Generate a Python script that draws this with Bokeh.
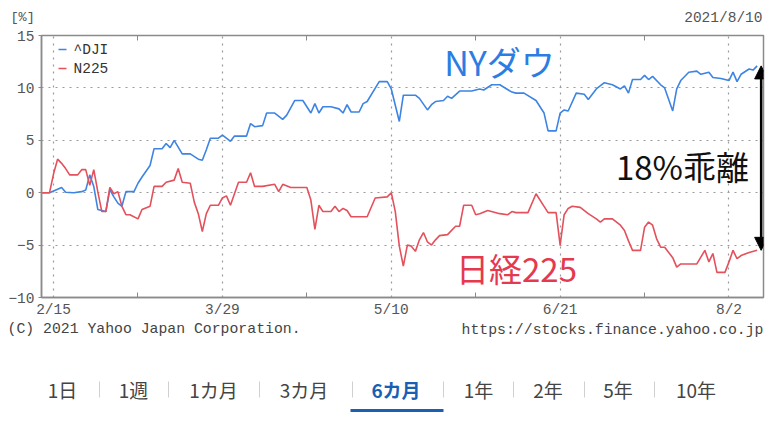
import pandas as pd
from bokeh.plotting import figure
from bokeh.layouts import column, row
from bokeh.models import (Range1d, FixedTicker, CustomJSTickFormatter, LinearAxis,
                          Label, Arrow, NormalHead)
from bokeh.embed import file_html
from bokeh.resources import INLINE

# ---------------- data (percent change since 2021-02-12) ----------------
dji_dates = ["2021-02-12", "2021-02-14", "2021-02-17", "2021-02-18", "2021-02-20", "2021-02-22",
             "2021-02-23", "2021-02-24", "2021-02-25", "2021-02-26", "2021-02-28", "2021-03-01",
             "2021-03-02", "2021-03-03", "2021-03-04", "2021-03-05", "2021-03-07", "2021-03-08",
             "2021-03-09", "2021-03-11", "2021-03-12", "2021-03-14", "2021-03-15", "2021-03-16",
             "2021-03-17", "2021-03-19", "2021-03-21", "2021-03-23", "2021-03-24", "2021-03-25",
             "2021-03-26", "2021-03-28", "2021-03-29", "2021-03-30", "2021-03-31", "2021-04-01",
             "2021-04-04", "2021-04-05", "2021-04-06", "2021-04-08", "2021-04-09", "2021-04-11",
             "2021-04-13", "2021-04-14", "2021-04-16", "2021-04-18", "2021-04-20", "2021-04-21",
             "2021-04-22", "2021-04-23", "2021-04-25", "2021-04-27", "2021-04-28", "2021-04-29",
             "2021-04-30", "2021-05-02", "2021-05-03", "2021-05-04", "2021-05-07", "2021-05-09",
             "2021-05-10", "2021-05-12", "2021-05-13", "2021-05-16", "2021-05-17", "2021-05-19",
             "2021-05-20", "2021-05-21", "2021-05-23", "2021-05-24", "2021-05-25", "2021-05-27",
             "2021-05-30", "2021-06-01", "2021-06-02", "2021-06-04", "2021-06-06", "2021-06-09",
             "2021-06-10", "2021-06-12", "2021-06-15", "2021-06-17", "2021-06-18", "2021-06-20",
             "2021-06-21", "2021-06-22", "2021-06-23", "2021-06-25", "2021-06-27", "2021-06-28",
             "2021-06-30", "2021-07-02", "2021-07-04", "2021-07-06", "2021-07-07", "2021-07-08",
             "2021-07-09", "2021-07-11", "2021-07-12", "2021-07-13", "2021-07-14", "2021-07-16",
             "2021-07-17", "2021-07-19", "2021-07-20", "2021-07-21", "2021-07-23", "2021-07-25",
             "2021-07-26", "2021-07-28", "2021-07-29", "2021-07-31", "2021-08-02", "2021-08-03",
             "2021-08-04", "2021-08-05", "2021-08-07", "2021-08-08", "2021-08-09"]
dji_values = [0.0, 0.0, 0.5, 0.05, 0.0, 0.1,
              0.25, 1.7, 0.6, -1.6, -1.8, 0.3,
              -0.4, -1.0, -1.3, 0.1, 0.1, 0.9,
              1.5, 2.6, 4.2, 4.2, 4.7, 4.3,
              5.0, 3.7, 3.7, 3.2, 3.1, 4.1,
              5.2, 5.2, 5.5, 5.2, 4.9, 5.4,
              5.4, 6.6, 6.3, 6.4, 7.6, 7.6,
              7.0, 7.4, 8.8, 8.8, 7.6, 8.5,
              7.6, 8.2, 8.2, 8.0, 7.6, 8.4,
              7.7, 7.7, 8.5, 8.7, 10.6, 10.6,
              9.9, 6.8, 9.3, 9.3, 9.0, 7.9,
              8.4, 8.7, 8.8, 9.2, 9.0, 9.7,
              9.7, 9.9, 9.8, 10.3, 10.3, 9.6,
              9.5, 9.5, 8.8, 7.6, 5.9, 5.9,
              7.6, 7.9, 7.8, 9.5, 9.4, 8.9,
              9.9, 10.5, 10.3, 9.9, 10.2, 9.5,
              10.8, 10.8, 11.2, 10.8, 11.1, 10.3,
              10.0, 7.8, 9.9, 10.7, 11.5, 11.6,
              11.3, 11.5, 11.0, 10.9, 10.7, 11.5,
              10.6, 11.3, 11.8, 11.7, 12.1]

n225_dates = ["2021-02-12", "2021-02-14", "2021-02-15", "2021-02-16", "2021-02-17", "2021-02-18",
              "2021-02-19", "2021-02-21", "2021-02-22", "2021-02-23", "2021-02-24", "2021-02-25",
              "2021-02-26", "2021-02-27", "2021-02-28", "2021-03-01", "2021-03-02", "2021-03-03",
              "2021-03-04", "2021-03-05", "2021-03-06", "2021-03-08", "2021-03-09", "2021-03-11",
              "2021-03-12", "2021-03-14", "2021-03-15", "2021-03-17", "2021-03-18", "2021-03-19",
              "2021-03-21", "2021-03-22", "2021-03-23", "2021-03-24", "2021-03-25", "2021-03-26",
              "2021-03-28", "2021-03-29", "2021-03-30", "2021-03-31", "2021-04-01", "2021-04-02",
              "2021-04-04", "2021-04-05", "2021-04-06", "2021-04-08", "2021-04-11", "2021-04-12",
              "2021-04-13", "2021-04-15", "2021-04-19", "2021-04-20", "2021-04-21", "2021-04-22",
              "2021-04-23", "2021-04-25", "2021-04-26", "2021-04-27", "2021-04-28", "2021-04-29",
              "2021-04-30", "2021-05-04", "2021-05-06", "2021-05-09", "2021-05-10", "2021-05-11",
              "2021-05-12", "2021-05-13", "2021-05-14", "2021-05-15", "2021-05-16", "2021-05-17",
              "2021-05-18", "2021-05-19", "2021-05-20", "2021-05-21", "2021-05-22", "2021-05-24",
              "2021-05-25", "2021-05-26", "2021-05-27", "2021-05-28", "2021-05-30", "2021-05-31",
              "2021-06-01", "2021-06-03", "2021-06-06", "2021-06-08", "2021-06-09", "2021-06-10",
              "2021-06-13", "2021-06-15", "2021-06-17", "2021-06-18", "2021-06-20", "2021-06-21",
              "2021-06-22", "2021-06-23", "2021-06-24", "2021-06-26", "2021-06-28", "2021-06-30",
              "2021-07-01", "2021-07-02", "2021-07-04", "2021-07-06", "2021-07-07", "2021-07-08",
              "2021-07-09", "2021-07-11", "2021-07-12", "2021-07-13", "2021-07-14", "2021-07-15",
              "2021-07-16", "2021-07-17", "2021-07-19", "2021-07-20", "2021-07-21", "2021-07-25",
              "2021-07-27", "2021-07-28", "2021-07-29", "2021-07-30", "2021-08-01", "2021-08-02",
              "2021-08-03", "2021-08-04", "2021-08-05", "2021-08-07", "2021-08-09"]
n225_values = [0.0, 0.0, 1.8, 3.2, 2.8, 2.3,
               1.7, 1.7, 2.2, 2.2, 0.7, 2.2,
               0.1, -1.8, -1.8, 0.5, -0.1, 0.1,
               -1.3, -2.1, -2.1, -2.5, -1.6, -1.3,
               0.6, 0.6, 1.0, 1.2, 2.3, 1.0,
               0.9, -0.9, -2.0, -3.7, -2.0, -1.2,
               -1.2, -0.5, -0.3, -1.2, -0.1, 1.0,
               1.0, 1.9, 0.6, 0.6, 0.8, 0.1,
               0.8, 0.5, 0.5, -0.7, -3.5, -1.2,
               -1.8, -1.8, -1.3, -1.8, -1.5, -1.7,
               -2.3, -2.3, -0.5, -0.4, 0.0, -1.8,
               -5.1, -7.0, -5.0, -5.1, -5.6, -4.5,
               -3.8, -4.7, -5.0, -4.5, -4.1, -4.0,
               -3.6, -3.2, -3.2, -1.2, -1.2, -2.1,
               -2.0, -1.7, -2.0, -2.1, -1.8, -1.9,
               -1.9, -0.1, -1.3, -1.9, -1.9, -5.0,
               -2.1, -1.5, -1.3, -1.4, -2.0, -2.5,
               -2.8, -2.5, -2.5, -3.1, -3.6, -4.6,
               -5.5, -5.5, -3.3, -2.8, -3.1, -4.4,
               -5.2, -5.2, -6.2, -7.1, -6.8, -6.8,
               -5.5, -6.6, -5.8, -7.6, -7.6, -6.6,
               -5.5, -6.3, -6.0, -5.7, -5.5]

y_ticks = [-10, -5, 0, 5, 10, 15]
x_major_dates = ["2021-02-15", "2021-03-29", "2021-05-10", "2021-06-21", "2021-08-02"]
x_minor_dates = ["2021-03-08", "2021-04-19", "2021-05-31", "2021-07-12"]
series_names = ["^DJI", "N225"]
tab_labels = ["1日", "1週", "1カ月", "3カ月", "6カ月", "1年", "2年", "5年", "10年"]
selected_tab = "6カ月"

# ---------------- styles ----------------
BLUE = "#3d84e3"
RED = "#e4505b"
MONO = "Liberation Mono"
CJK = "Noto Sans CJK JP"
GRAY_TXT = "#555555"
AXIS_C = "#8a8a8a"
W = 780


def ms(s):
    return pd.Timestamp(s).value // 10**6


def blank_fig(h):
    f = figure(width=W, height=h, output_backend="svg", toolbar_location=None,
               x_range=Range1d(0, 1), y_range=Range1d(0, 1),
               x_axis_location=None, y_axis_location=None,
               min_border_left=0, min_border_right=0, min_border_top=0, min_border_bottom=0)
    f.outline_line_color = None
    f.grid.visible = False
    return f


def lab(f, px, py, text, **kw):
    # px, py: page position
    kw.setdefault("text_baseline", "middle")
    f.add_layout(Label(x=px - f._fl, y=f._fb - py, x_units="screen", y_units="screen",
                       text=text, **kw))


def seg(f, x0, y0, x1, y1, color, width):
    f.add_layout(Arrow(end=None, x_start=x0 - f._fl, y_start=f._fb - y0,
                       x_end=x1 - f._fl, y_end=f._fb - y1,
                       start_units="screen", end_units="screen",
                       line_color=color, line_width=width))


# ---------------- header strip ----------------
TOP_H = 30
head_fig = blank_fig(TOP_H)
head_fig._fl, head_fig._fb = 0, TOP_H
lab(head_fig, 10, 17, "[%]", text_font=MONO, text_font_size="13.5px", text_color=GRAY_TXT)
lab(head_fig, 762, 17, "2021/8/10", text_font=MONO, text_font_size="14.5px",
    text_color=GRAY_TXT, text_align="right")

# ---------------- main chart ----------------
MAIN_TOP = TOP_H
MAIN_H = 290
x_start = pd.Timestamp("2021-02-12 00:00")
x_end = pd.Timestamp("2021-08-10 14:00")

p = figure(width=W, height=MAIN_H, output_backend="svg", toolbar_location=None,
           x_axis_type="datetime",
           x_range=Range1d(x_start, x_end), y_range=Range1d(-10, 15),
           min_border_left=41, min_border_right=W - 763, min_border_top=35 - MAIN_TOP,
           min_border_bottom=MAIN_H - (297 - MAIN_TOP))
p._fl, p._fb = 41, 297
p.background_fill_color = "white"
p.border_fill_color = "white"
p.outline_line_color = AXIS_C
p.outline_line_width = 1.5

xt = FixedTicker(ticks=[ms(d) for d in x_major_dates], minor_ticks=[ms(d) for d in x_minor_dates])
xa = p.xaxis[0]
xa.ticker = xt
xa.formatter = CustomJSTickFormatter(
    code="const d = new Date(tick); return (d.getUTCMonth()+1) + '/' + d.getUTCDate();")
xa.major_tick_in = 0
xa.major_tick_out = 0
xa.minor_tick_in = 5
xa.minor_tick_out = 0
xa.minor_tick_line_color = AXIS_C
xa.axis_line_color = AXIS_C
xa.axis_line_width = 1.5
xa.major_label_standoff = 4
xa.major_label_text_font = MONO
xa.major_label_text_font_size = "14.5px"
xa.major_label_text_color = GRAY_TXT

top = LinearAxis(ticker=FixedTicker(ticks=[ms(d) for d in x_major_dates],
                                    minor_ticks=[ms(d) for d in x_minor_dates]),
                 major_tick_in=0, major_tick_out=0, minor_tick_in=5, minor_tick_out=0,
                 minor_tick_line_color=AXIS_C, axis_line_color=AXIS_C,
                 major_label_text_color=None, major_label_standoff=0,
                 major_label_text_font_size="1px")
p.add_layout(top, "above")

ya = p.yaxis[0]
ya.ticker = FixedTicker(ticks=y_ticks)
ya.major_tick_in = 0
ya.major_tick_out = 3
ya.minor_tick_line_color = None
ya.axis_line_color = AXIS_C
ya.axis_line_width = 1.5
ya.major_tick_line_color = AXIS_C
ya.major_label_standoff = 4
ya.major_label_text_font = MONO
ya.major_label_text_font_size = "14.5px"
ya.major_label_text_color = GRAY_TXT

for g in (p.xgrid[0], p.ygrid[0]):
    g.grid_line_color = "#9a9a9a"
    g.grid_line_dash = "2 5"
    g.grid_line_width = 1.2
p.xgrid[0].ticker = xt

p.line(pd.to_datetime(dji_dates), dji_values, line_color=BLUE, line_width=1.6)
p.line(pd.to_datetime(n225_dates), n225_values, line_color=RED, line_width=1.6)

# legend
for i, (name, col) in enumerate(zip(series_names, [BLUE, RED])):
    yy = 49 + i * 19
    seg(p, 58, yy, 66, yy, col, 1.6)
    lab(p, 73, yy, name, text_font=MONO, text_font_size="14.5px", text_color="#333333")

# big callouts
lab(p, 499, 61, "NYダウ", text_font=CJK, text_font_size="34px",
    text_color="#2b7de3", text_align="center")
lab(p, 516, 267, "日経225", text_font=CJK, text_font_size="33px",
    text_color="#e5394f", text_align="center")
lab(p, 682, 165, "18%乖離", text_font=CJK, text_font_size="33px",
    text_color="#111111", text_align="center")

# gap arrow between the last values of the two series
arrow_x = ms(dji_dates[-1]) + 24 * 3600 * 1000
headp = dict(size=13, fill_color="black", line_color="black")
p.add_layout(Arrow(start=NormalHead(**headp), end=NormalHead(**headp),
                   x_start=arrow_x, y_start=n225_values[-1],
                   x_end=arrow_x, y_end=dji_values[-1],
                   line_color="black", line_width=2.5))

# ---------------- footer strip ----------------
FOOT_TOP = MAIN_TOP + MAIN_H
foot = blank_fig(426 - FOOT_TOP)
foot._fl, foot._fb = 0, 426
lab(foot, 7, 328, "(C) 2021 Yahoo Japan Corporation.", text_font=MONO,
    text_font_size="14.8px", text_color="#444444")
lab(foot, 763, 329, "https://stocks.finance.yahoo.co.jp", text_font=MONO,
    text_font_size="14.8px", text_color="#444444", text_align="right")

tab_x = [62, 133, 213, 303.5, 395.5, 478, 547.5, 617.5, 695.5]
sep_x = [99, 168, 259, 352, 443, 513, 584, 654]
for tx, t in zip(tab_x, tab_labels):
    sel = (t == selected_tab)
    lab(foot, tx, 389, t, text_font=CJK, text_font_size="19px",
        text_color="#1a5fb4" if sel else "#444444",
        text_font_style="bold" if sel else "normal", text_align="center")
for sx in sep_x:
    seg(foot, sx, 381, sx, 397, "#d0d0d0", 1)
sel_i = tab_labels.index(selected_tab)
seg(foot, sep_x[sel_i - 1] - 2, 410, sep_x[sel_i], 410, "#1a5fb4", 3)

layout = column(row(head_fig), p, row(foot), spacing=0)
open("out.html", "w").write(file_html(layout, INLINE))
